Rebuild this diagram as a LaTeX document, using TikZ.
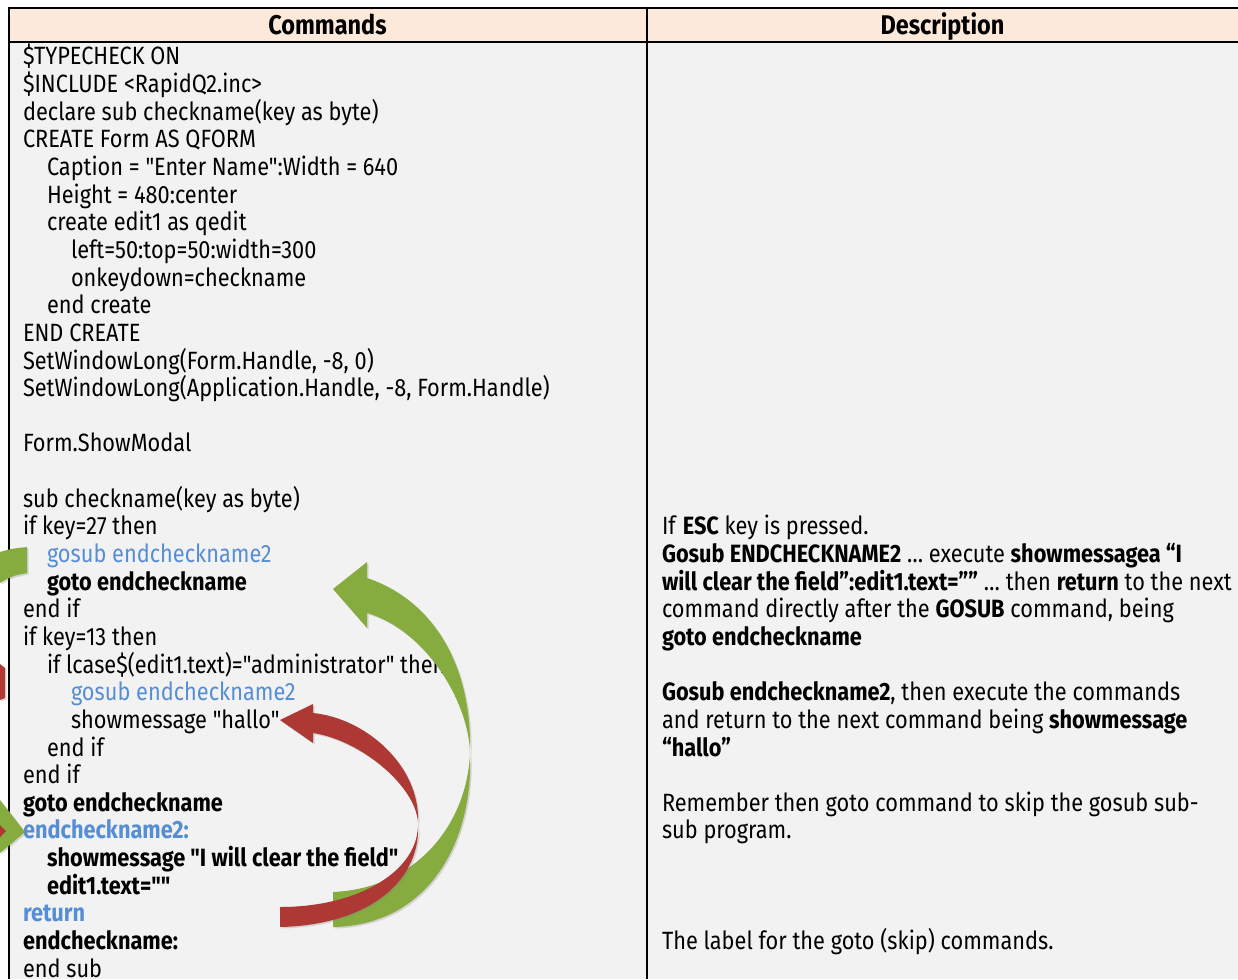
\documentclass[tikz,border=0pt]{standalone}
\usepackage{fontspec}
\setmainfont{Fira Sans}[FakeStretch=0.87, Ligatures=TeXOff]
\usetikzlibrary{shadows}
\definecolor{hdrbg}{HTML}{FDE9D9}
\definecolor{bodybg}{HTML}{F2F2F2}
\definecolor{codeblue}{HTML}{558ED5}
\definecolor{arrgreen}{HTML}{86AC40}
\definecolor{arrred}{HTML}{AE3833}
\begin{document}
\begin{tikzpicture}[x=1pt,y=-1pt,
  txt/.style={anchor=base west, inner sep=0pt, outer sep=0pt, font=\fontsize{25}{28}\selectfont},
  bld/.style={txt, font=\fontsize{25}{28}\selectfont\bfseries},
  blu/.style={txt, text=codeblue},
  blubld/.style={bld, text=codeblue},
  hdrtxt/.style={anchor=base, inner sep=0pt, font=\fontsize{27}{30}\selectfont\bfseries},
  gridline/.style={line width=2pt, black},
  greenarrow/.style={fill=arrgreen, drop shadow={opacity=0.28, shadow xshift=1.5pt, shadow yshift=-1.5pt}},
  redarrow/.style={fill=arrred, drop shadow={opacity=0.28, shadow xshift=1.5pt, shadow yshift=-1.5pt}}]
\useasboundingbox (0,0) rectangle (1238,979);
\fill[white] (0,0) rectangle (1238,979);
% table background
\fill[bodybg] (9,42) rectangle (1238,979);
\fill[hdrbg] (9,8) rectangle (1238,42);
\draw[gridline] (9,8) -- (1238,8);
\draw[gridline] (9,42) -- (1238,42);
\draw[gridline] (9,7) -- (9,979);
\draw[gridline] (647,7) -- (647,979);
% headers
\node[hdrtxt] (hcmd) at (327.5,35) {Commands};
\node[hdrtxt] (hdesc) at (942.5,35) {Description};
% code column
\node[txt] (c0) at (23,65) {\$TYPECHECK ON};
\node[txt] (c1) at (23,92.64) {\$INCLUDE <RapidQ2.inc>};
\node[txt] (c2) at (23,120.28) {declare sub checkname(key as byte)};
\node[txt] (c3) at (23,147.92) {CREATE Form AS QFORM};
\node[txt] (c4) at (47,175.56) {Caption = "Enter Name":Width = 640};
\node[txt] (c5) at (47,203.2) {Height = 480:center};
\node[txt] (c6) at (47,230.84) {create edit1 as qedit};
\node[txt] (c7) at (71,258.48) {left=50:top=50:width=300};
\node[txt] (c8) at (71,286.12) {onkeydown=checkname};
\node[txt] (c9) at (47,313.76) {end create};
\node[txt] (c10) at (23,341.4) {END CREATE};
\node[txt] (c11) at (23,369.04) {SetWindowLong(Form.Handle, -8, 0)};
\node[txt] (c12) at (23,396.68) {SetWindowLong(Application.Handle, -8, Form.Handle)};
\node[txt] (c14) at (23,451.96) {Form.ShowModal};
\node[txt] (c16) at (23,507.24) {sub checkname(key as byte)};
\node[txt] (c17) at (23,534.88) {if key=27 then};
\node[blu] (c18) at (47,562.52) {gosub endcheckname2};
\node[bld] (c19) at (47,590.16) {goto endcheckname};
\node[txt] (c20) at (23,617.8) {end if};
\node[txt] (c21) at (23,645.44) {if key=13 then};
\node[txt] (c22) at (47,673.08) {if lcase\$(edit1.text)="administrator" then};
\node[blu] (c23) at (71,700.72) {gosub endcheckname2};
\node[txt] (c24) at (71,728.36) {showmessage "hallo"};
\node[txt] (c25) at (47,756) {end if};
\node[txt] (c26) at (23,783.64) {end if};
\node[bld] (c27) at (23,811.28) {goto endcheckname};
\node[blubld] (c28) at (23,838.92) {endcheckname2:};
\node[bld] (c29) at (47,866.56) {showmessage "I will clear the field"};
\node[bld] (c30) at (47,894.2) {edit1.text=""};
\node[blubld] (c31) at (23,921.84) {return};
\node[bld] (c32) at (23,949.48) {endcheckname:};
\node[txt] (c33) at (23,977.12) {end sub};
% description column
\node[txt] (d17) at (662,534.88) {If \textbf{ESC} key is pressed.};
\node[txt] (d18) at (662,562.52) {\textbf{Gosub ENDCHECKNAME2} … execute \textbf{showmessagea “I}};
\node[txt] (d19) at (662,590.16) {\textbf{will clear the field”:edit1.text=””} … then \textbf{return} to the next};
\node[txt] (d20) at (662,617.8) {command directly after the \textbf{GOSUB} command, being};
\node[txt] (d21) at (662,645.44) {\textbf{goto endcheckname}};
\node[txt] (d23) at (662,700.72) {\textbf{Gosub endcheckname2}, then execute the commands};
\node[txt] (d24) at (662,728.36) {and return to the next command being \textbf{showmessage}};
\node[txt] (d25) at (662,756) {\textbf{“hallo”}};
\node[txt] (d27) at (662,811.28) {Remember then goto command to skip the gosub sub-};
\node[txt] (d28) at (662,838.92) {sub program.};
\node[txt] (d32) at (662,949.48) {The label for the goto (skip) commands.};
% big green arrow: return to goto endcheckname
\path[greenarrow] (333,589) -- (367,562) -- (367,578)
  .. controls (425,597) and (472,655) .. (470,752)
  .. controls (474,840) and (430,925) .. (333,927)
  -- (333,892)
  .. controls (420,888) and (468,820) .. (470,752)
  .. controls (468,700) and (425,630) .. (367,613)
  -- (367,628) -- cycle;
% red arrow: return to showmessage "hallo"
\path[redarrow] (280,720) -- (313,704) -- (313,713)
  .. controls (365,718) and (420,765) .. (418,822)
  .. controls (422,880) and (370,925) .. (280,927)
  -- (280,907)
  .. controls (360,907) and (420,870) .. (418,822)
  .. controls (415,785) and (360,740) .. (313,733)
  -- (313,743) -- cycle;
% partial arrows at the left edge
\path[greenarrow] (0,552) .. controls (10,549) .. (27,547) -- (27,573) .. controls (12,576) .. (0,583) -- cycle;
\path[redarrow] (0,664) -- (5,668) -- (5,698) -- (0,700) -- cycle;
\path[greenarrow] (0,800) -- (25,832) -- (0,853) -- cycle;
\path[fill=arrred] (0,825) -- (6,831) -- (0,837) -- cycle;
\end{tikzpicture}
\end{document}
